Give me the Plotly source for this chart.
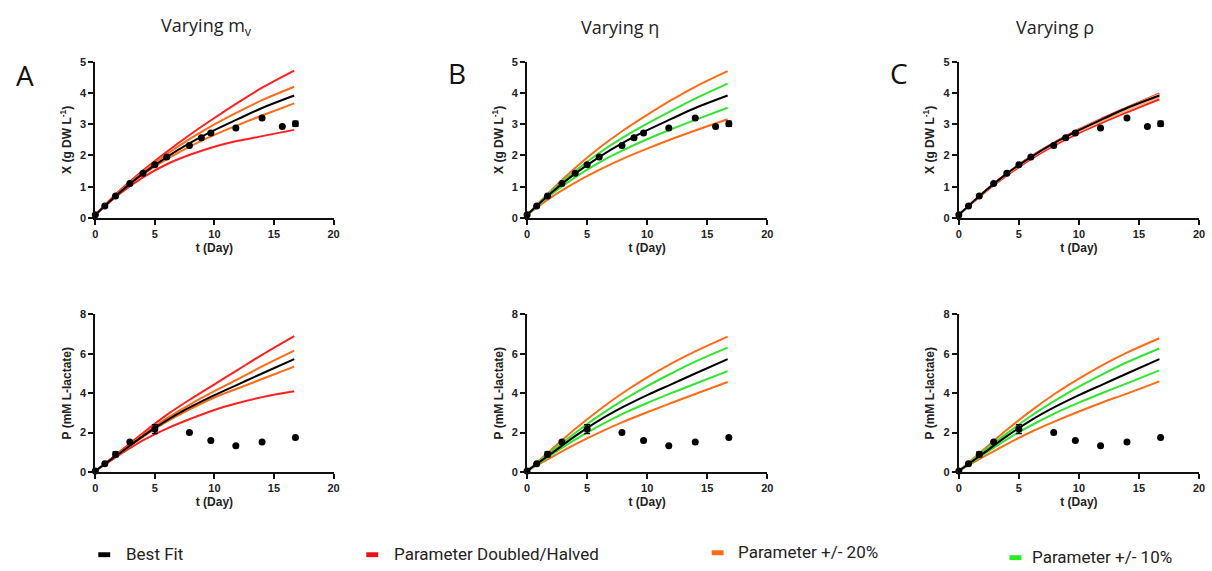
import plotly.graph_objects as go

# ---------------- data ----------------
t_model = [0, 2, 4, 6, 8, 10, 12, 14, 16.7]

best_X = [0.1, 0.8, 1.42, 1.95, 2.41, 2.81, 3.17, 3.52, 3.92]
best_P = [0.05, 0.93, 1.82, 2.62, 3.3, 3.9, 4.45, 5.0, 5.73]

# Panel A: varying m_v
A_X_red_hi = [0.1, 0.86, 1.52, 2.12, 2.68, 3.2, 3.7, 4.17, 4.72]
A_X_org_hi = [0.1, 0.83, 1.47, 2.04, 2.55, 3.0, 3.4, 3.77, 4.2]
A_X_org_lo = [0.1, 0.8, 1.39, 1.88, 2.3, 2.66, 2.98, 3.28, 3.67]
A_X_red_lo = [0.1, 0.76, 1.3, 1.72, 2.03, 2.28, 2.47, 2.62, 2.82]
A_P_red_hi = [0.05, 1.0, 1.98, 2.9, 3.7, 4.45, 5.2, 5.95, 6.9]
A_P_org_hi = [0.05, 0.96, 1.88, 2.72, 3.45, 4.1, 4.72, 5.36, 6.16]
A_P_org_lo = [0.05, 0.92, 1.78, 2.55, 3.2, 3.78, 4.25, 4.72, 5.35]
A_P_red_lo = [0.05, 0.86, 1.6, 2.2, 2.7, 3.15, 3.5, 3.8, 4.1]

# Panel B: varying eta
B_X_org_hi = [0.1, 0.88, 1.6, 2.24, 2.8, 3.3, 3.77, 4.2, 4.7]
B_X_grn_hi = [0.1, 0.84, 1.5, 2.08, 2.58, 3.02, 3.43, 3.82, 4.3]
B_X_grn_lo = [0.1, 0.75, 1.3, 1.77, 2.17, 2.52, 2.84, 3.14, 3.53]
B_X_org_lo = [0.1, 0.66, 1.13, 1.54, 1.9, 2.22, 2.52, 2.8, 3.16]
B_P_org_hi = [0.05, 1.12, 2.18, 3.15, 4.02, 4.8, 5.5, 6.12, 6.87]
B_P_grn_hi = [0.05, 1.03, 1.98, 2.86, 3.65, 4.36, 5.0, 5.6, 6.31]
B_P_grn_lo = [0.05, 0.86, 1.64, 2.34, 2.96, 3.5, 4.0, 4.48, 5.12]
B_P_org_lo = [0.05, 0.74, 1.4, 2.0, 2.54, 3.03, 3.5, 3.96, 4.57]

# Panel C: varying rho
C_X_red_hi = [0.1, 0.8, 1.43, 1.97, 2.43, 2.84, 3.2, 3.54, 3.99]
C_X_org_hi = [0.1, 0.8, 1.42, 1.96, 2.41, 2.82, 3.17, 3.52, 3.96]
C_X_org_lo = [0.1, 0.79, 1.4, 1.93, 2.38, 2.77, 3.12, 3.45, 3.87]
C_X_red_lo = [0.1, 0.77, 1.36, 1.88, 2.33, 2.72, 3.06, 3.38, 3.8]
C_P_org_hi = [0.05, 1.1, 2.14, 3.1, 3.97, 4.74, 5.44, 6.06, 6.79]
C_P_grn_hi = [0.05, 1.02, 1.96, 2.84, 3.62, 4.33, 4.97, 5.57, 6.27]
C_P_grn_lo = [0.05, 0.87, 1.66, 2.36, 2.98, 3.52, 4.02, 4.5, 5.16]
C_P_org_lo = [0.05, 0.75, 1.42, 2.03, 2.57, 3.07, 3.54, 3.98, 4.6]

# Experimental data
t_X = [0, 0.8, 1.7, 2.9, 4, 5, 6, 7.9, 8.9, 9.7, 11.8, 14, 15.7, 16.8]
X_obs = [0.1, 0.38, 0.7, 1.1, 1.43, 1.7, 1.95, 2.32, 2.57, 2.72, 2.88, 3.2, 2.93, 3.02]
X_err = [0, 0, 0, 0, 0.03, 0.03, 0, 0, 0, 0, 0, 0, 0, 0.08]
t_P = [0, 0.8, 1.7, 2.9, 5, 7.9, 9.7, 11.8, 14, 16.8]
P_obs = [0.05, 0.42, 0.9, 1.52, 2.18, 2.0, 1.6, 1.33, 1.52, 1.75]
P_err = [0, 0, 0.12, 0, 0.22, 0, 0, 0, 0, 0]

titles = ["Varying m<sub>v</sub>", "Varying η", "Varying ρ"]
letters = ["A", "B", "C"]
legend_labels = ["Best Fit", "Parameter Doubled/Halved", "Parameter +/- 20%", "Parameter +/- 10%"]

# ---------------- style ----------------
RED = "#ff1f1f"
ORANGE = "#ff6a14"
GREEN = "#2fe62f"
BLACK = "#000000"

fig = go.Figure()

def add_curves(ax_idx, curves):
    xa = "x" if ax_idx == 1 else f"x{ax_idx}"
    ya = "y" if ax_idx == 1 else f"y{ax_idx}"
    for ys, col in curves:
        fig.add_trace(go.Scatter(x=t_model, y=ys, mode="lines", xaxis=xa, yaxis=ya,
                                 line=dict(color=col, width=2, shape="spline", smoothing=1.0),
                                 showlegend=False, hoverinfo="skip", cliponaxis=False))

def add_data(ax_idx, tx, yv, err):
    xa = "x" if ax_idx == 1 else f"x{ax_idx}"
    ya = "y" if ax_idx == 1 else f"y{ax_idx}"
    fig.add_trace(go.Scatter(x=tx, y=yv, mode="markers", xaxis=xa, yaxis=ya,
                             marker=dict(color=BLACK, size=7),
                             error_y=dict(type="data", array=err, color=BLACK, thickness=1.5, width=3),
                             showlegend=False, cliponaxis=False))

# top row
add_curves(1, [(A_X_red_hi, RED), (A_X_red_lo, RED), (A_X_org_hi, ORANGE), (A_X_org_lo, ORANGE), (best_X, BLACK)])
add_data(1, t_X, X_obs, X_err)
add_curves(2, [(B_X_org_hi, ORANGE), (B_X_org_lo, ORANGE), (B_X_grn_hi, GREEN), (B_X_grn_lo, GREEN), (best_X, BLACK)])
add_data(2, t_X, X_obs, X_err)
add_curves(3, [(C_X_red_hi, RED), (C_X_red_lo, RED), (C_X_org_hi, "#ffb070"), (C_X_org_lo, "#ffb070"), (best_X, BLACK)])
add_data(3, t_X, X_obs, X_err)
# bottom row
add_curves(4, [(A_P_red_hi, RED), (A_P_red_lo, RED), (A_P_org_hi, ORANGE), (A_P_org_lo, ORANGE), (best_P, BLACK)])
add_data(4, t_P, P_obs, P_err)
add_curves(5, [(B_P_org_hi, ORANGE), (B_P_org_lo, ORANGE), (B_P_grn_hi, GREEN), (B_P_grn_lo, GREEN), (best_P, BLACK)])
add_data(5, t_P, P_obs, P_err)
add_curves(6, [(C_P_org_hi, ORANGE), (C_P_org_lo, ORANGE), (C_P_grn_hi, GREEN), (C_P_grn_lo, GREEN), (best_P, BLACK)])
add_data(6, t_P, P_obs, P_err)

W, H = 1212, 571
xdoms = [[93 / W, 333 / W], [528 / W, 770 / W], [963 / W, 1205 / W]]
ydom_top = [(H - 216.5) / H, (H - 57) / H]
ydom_bot = [(H - 476) / H, (H - 315) / H]

tickfont = dict(family="Liberation Sans, Arial", size=11, color="#222", weight="bold")
titlefont = dict(family="Liberation Sans, Arial", size=12, color="#222", weight="bold")

def axis_common():
    return dict(showline=True, linewidth=2, linecolor="#111", ticks="outside", ticklen=5,
                tickwidth=2, tickcolor="#111", showgrid=False, zeroline=False,
                tickfont=tickfont, fixedrange=True)

layout = dict(width=W, height=H, margin=dict(l=0, r=0, t=0, b=0),
              paper_bgcolor="white", plot_bgcolor="white", showlegend=False)

for i in range(6):
    col = i % 3
    top = i < 3
    n = i + 1
    xk = "xaxis" if n == 1 else f"xaxis{n}"
    yk = "yaxis" if n == 1 else f"yaxis{n}"
    ya_name = "y" if n == 1 else f"y{n}"
    xa_name = "x" if n == 1 else f"x{n}"
    xa = axis_common()
    xa.update(domain=xdoms[col], range=[0, 20], tickvals=[0, 5, 10, 15, 20], anchor=ya_name,
              title=dict(text="t (Day)", font=titlefont, standoff=4))
    ya = axis_common()
    if top:
        ya.update(domain=ydom_top, range=[0, 5], tickvals=[0, 1, 2, 3, 4, 5],
                  title=dict(text="X (g DW L<sup>-1</sup>)", font=titlefont, standoff=6))
    else:
        ya.update(domain=ydom_bot, range=[0, 8], tickvals=[0, 2, 4, 6, 8],
                  title=dict(text="P (mM L-lactate)", font=titlefont, standoff=6))
    ya.update(anchor=xa_name)
    layout[xk] = xa
    layout[yk] = ya

fig.update_layout(**layout)

annotations = []
title_x = [205, 622, 1060]
for tx, txt in zip(title_x, titles):
    annotations.append(dict(x=tx / W, y=1 - 21 / H, xref="paper", yref="paper", text=txt,
                            showarrow=False, xanchor="center", yanchor="middle",
                            font=dict(family="Open Sans, Lato", size=18, color="#222")))
letter_x = [22, 457, 903]
letter_y = [70, 68, 68]
for lx, ly, txt in zip(letter_x, letter_y, letters):
    annotations.append(dict(x=lx / W, y=1 - ly / H, xref="paper", yref="paper", text=txt,
                            showarrow=False, xanchor="center", yanchor="middle",
                            font=dict(family="Open Sans, Lato", size=28, color="#111")))

# custom legend
leg_sw_x = [96, 366, 714, 1014]
leg_txt_x = [122, 392, 738, 1035]
leg_y = [560, 560, 558, 563]
leg_cols = [BLACK, "#ee1111", ORANGE, "#22ee22"]
shapes = []
for sx, tx, ly, c, lab in zip(leg_sw_x, leg_txt_x, leg_y, leg_cols, legend_labels):
    shapes.append(dict(type="rect", xref="paper", yref="paper",
                       x0=sx / W, x1=(sx + 12) / W, y0=1 - (ly + 3) / H, y1=1 - (ly - 2) / H,
                       fillcolor=c, line=dict(width=0)))
    annotations.append(dict(x=tx / W, y=1 - ly / H, xref="paper", yref="paper", text=lab,
                            showarrow=False, xanchor="left", yanchor="middle",
                            font=dict(family="Liberation Sans Narrow, Roboto", size=17, color="#222")))

fig.update_layout(annotations=annotations, shapes=shapes)
fig.write_html("out.html")
